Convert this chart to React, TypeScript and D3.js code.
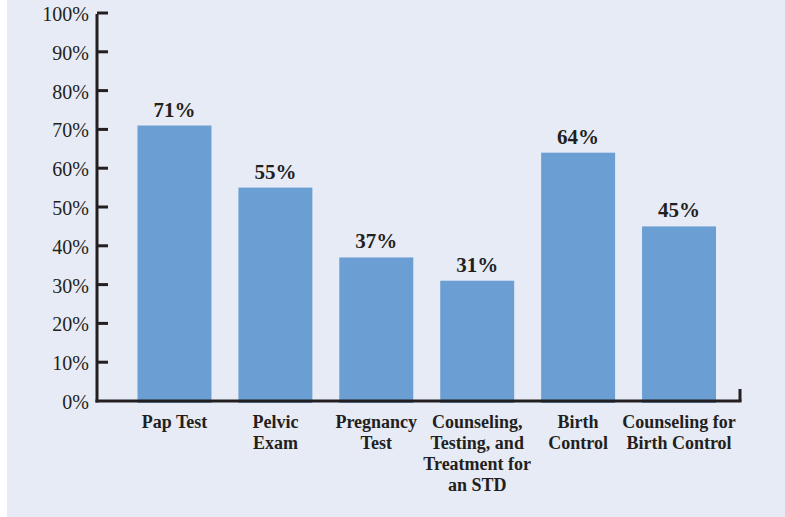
import React from "react";
import * as d3 from "d3";

const categories: string[][] = [
  ["Pap Test"],
  ["Pelvic", "Exam"],
  ["Pregnancy", "Test"],
  ["Counseling,", "Testing, and", "Treatment for", "an STD"],
  ["Birth", "Control"],
  ["Counseling for", "Birth Control"],
];
const values: number[] = [71, 55, 37, 31, 64, 45];
const valueLabels: string[] = ["71%", "55%", "37%", "31%", "64%", "45%"];
const yTicks: number[] = [0, 10, 20, 30, 40, 50, 60, 70, 80, 90, 100];

const W = 785;
const H = 517;
const BG = "#e7ebf6";
const BAR = "#6b9fd4";
const INK = "#231f20";
const FONT = "'Liberation Serif', 'Times New Roman', serif";

export default function App() {
  const x = d3
    .scaleBand<number>()
    .domain(d3.range(values.length))
    .range([137.5, 716])
    .paddingInner(0.267)
    .paddingOuter(0);
  const y = d3.scaleLinear().domain([0, 100]).range([401, 13]);
  const axisX0 = 97;
  const axisX1 = 740;

  return (
    <svg
      width={W}
      height={H}
      style={{ position: "absolute", left: 0, top: 0, display: "block" }}
    >
      <rect x={0} y={0} width={W} height={H} fill="#ffffff" />
      <rect x={7} y={0} width={W - 7} height={H} fill={BG} />
      {values.map((v, i) => (
        <rect
          key={"b" + i}
          x={x(i)!}
          y={y(v)}
          width={x.bandwidth()}
          height={y(0) - y(v) + 2}
          fill={BAR}
        />
      ))}
      {values.map((v, i) => (
        <text
          key={"v" + i}
          x={x(i)! + x.bandwidth() / 2}
          y={y(v) - 9}
          textAnchor="middle"
          fontFamily={FONT}
          fontWeight="bold"
          fontSize={21}
          fill={INK}
        >
          {valueLabels[i]}
        </text>
      ))}
      <line x1={axisX0} x2={axisX0} y1={y(100) + 1} y2={y(0) + 1.5} stroke={INK} strokeWidth={3} />
      <line x1={axisX0 - 1.5} x2={axisX1 + 1.5} y1={y(0)} y2={y(0)} stroke={INK} strokeWidth={3} />
      <line x1={axisX1} x2={axisX1} y1={y(0) - 12} y2={y(0)} stroke={INK} strokeWidth={3} />
      {yTicks.map((t) => (
        <g key={"t" + t}>
          {t > 0 && (
            <line x1={axisX0} x2={axisX0 + 11} y1={y(t)} y2={y(t)} stroke={INK} strokeWidth={3} />
          )}
          <text
            x={89}
            y={y(t) + 8}
            textAnchor="end"
            fontFamily={FONT}
            fontSize={20}
            fill={INK}
          >
            {t + "%"}
          </text>
        </g>
      ))}
      {categories.map((lines, i) => (
        <text
          key={"c" + i}
          x={x(i)! + x.bandwidth() / 2}
          y={427.5}
          textAnchor="middle"
          fontFamily={FONT}
          fontWeight="bold"
          fontSize={18}
          fill={INK}
        >
          {lines.map((l, j) => (
            <tspan key={j} x={x(i)! + x.bandwidth() / 2} dy={j === 0 ? 0 : 21.3}>
              {l}
            </tspan>
          ))}
        </text>
      ))}
    </svg>
  );
}
